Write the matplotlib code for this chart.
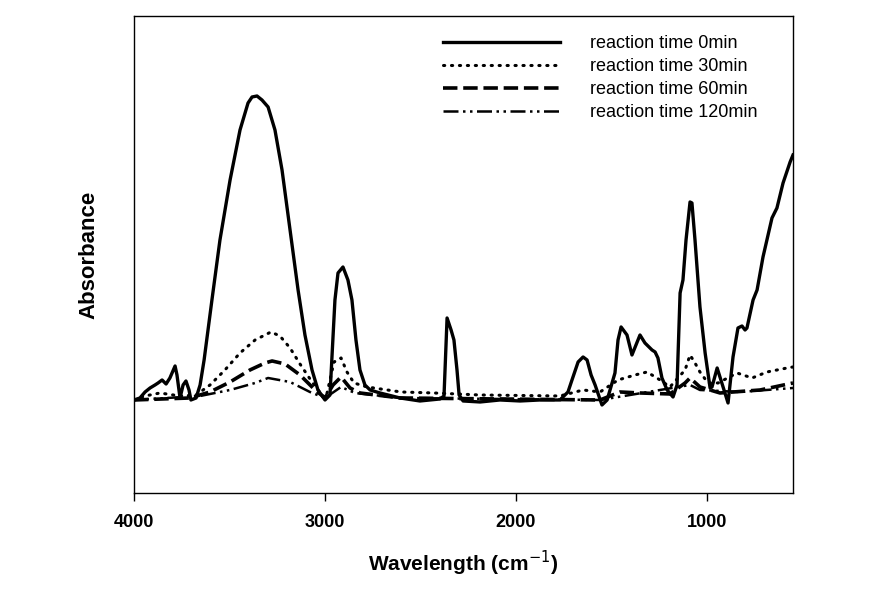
import matplotlib
matplotlib.use('Agg')
import matplotlib.pyplot as plt
import numpy as np

plt.rcParams['font.family'] = ['Liberation Sans', 'DejaVu Sans']

# reaction time 0min
wn_0 = [4000, 3969, 3942, 3916, 3890, 3874, 3853, 3832, 3812, 3785, 3775, 3759, 3743, 3728,
        3712, 3702, 3675, 3654, 3633, 3592, 3550, 3497, 3445, 3403, 3382, 3356, 3330, 3298,
        3262, 3225, 3183, 3141, 3105, 3068, 3037, 3000, 2974, 2948, 2932, 2906, 2880, 2859,
        2838, 2817, 2791, 2764, 2712, 2607, 2503, 2398, 2377, 2361, 2340, 2325, 2309, 2298,
        2277, 2188, 2084, 1979, 1874, 1770, 1728, 1707, 1675, 1649, 1628, 1607, 1586, 1550,
        1523, 1482, 1466, 1450, 1419, 1393, 1372, 1351, 1325, 1288, 1272, 1257, 1236, 1209,
        1178, 1157, 1141, 1126, 1110, 1089, 1079, 1063, 1037, 1010, 984, 974, 947, 916, 890,
        864, 838, 817, 801, 791, 759, 738, 707, 660, 634, 602, 565, 550]
abs_0 = [-0.02, 0.00, 0.06, 0.10, 0.13, 0.15, 0.18, 0.14, 0.20, 0.32, 0.23, 0.00, 0.13, 0.17,
         0.08, -0.02, 0.00, 0.13, 0.38, 0.98, 1.58, 2.18, 2.68, 2.95, 3.01, 3.02, 2.98, 2.91,
         2.68, 2.28, 1.68, 1.08, 0.63, 0.28, 0.08, -0.02, 0.03, 0.98, 1.25, 1.31, 1.18, 0.98,
         0.58, 0.28, 0.13, 0.08, 0.05, 0.00, -0.03, -0.01, 0.02, 0.80, 0.68, 0.58, 0.28, 0.03,
         -0.03, -0.04, -0.02, -0.03, -0.02, -0.02, 0.06, 0.18, 0.36, 0.41, 0.38, 0.23, 0.13, -0.07,
         -0.02, 0.25, 0.58, 0.71, 0.63, 0.43, 0.53, 0.63, 0.55, 0.48, 0.46, 0.40, 0.20, 0.08,
         0.01, 0.13, 1.05, 1.18, 1.58, 1.96, 1.95, 1.58, 0.91, 0.45, 0.10, 0.11, 0.30, 0.11, -0.05,
         0.41, 0.70, 0.72, 0.68, 0.70, 0.98, 1.08, 1.41, 1.80, 1.90, 2.15, 2.36, 2.43]

# reaction time 30min
wn_30 = [4000, 3942, 3864, 3759, 3675, 3602, 3524, 3445, 3366, 3283, 3236, 3183, 3131, 3068,
         3016, 2995, 2953, 2916, 2885, 2848, 2780, 2602, 2429, 2188, 1770, 1649, 1560, 1466,
         1377, 1314, 1246, 1194, 1115, 1089, 1063, 1037, 995, 942, 843, 764, 686, 581, 550]
abs_30 = [-0.02, 0.02, 0.05, 0.02, 0.03, 0.13, 0.28, 0.45, 0.58, 0.66, 0.62, 0.50, 0.34, 0.16,
          0.03, 0.00, 0.36, 0.40, 0.26, 0.15, 0.11, 0.06, 0.05, 0.03, 0.02, 0.08, 0.06, 0.18,
          0.23, 0.26, 0.18, 0.11, 0.28, 0.43, 0.35, 0.26, 0.15, 0.15, 0.25, 0.20, 0.26, 0.30, 0.31]

# reaction time 60min
wn_60 = [4000, 3707, 3602, 3497, 3393, 3314, 3277, 3209, 3131, 3052, 3000, 2958, 2916, 2869,
         2817, 2607, 1560, 1455, 1351, 1194, 1115, 1089, 1037, 932, 722, 550]
abs_60 = [-0.02, 0.00, 0.06, 0.16, 0.28, 0.35, 0.37, 0.34, 0.23, 0.08, 0.00, 0.13, 0.21, 0.10,
          0.05, 0.00, -0.02, 0.06, 0.05, 0.04, 0.15, 0.20, 0.11, 0.05, 0.08, 0.15]

# reaction time 120min
wn_120 = [4000, 3654, 3497, 3366, 3298, 3183, 3079, 3000, 2916, 2843, 2607, 1560, 1403, 1089,
          1037, 827, 550]
abs_120 = [-0.02, 0.02, 0.08, 0.15, 0.20, 0.16, 0.06, 0.00, 0.11, 0.05, 0.00, -0.02, 0.03, 0.13,
           0.08, 0.06, 0.10]

labels = ['reaction time 0min', 'reaction time 30min', 'reaction time 60min', 'reaction time 120min']


def main():
    fig = plt.figure(figsize=(8.81, 5.99), dpi=100)
    ax = fig.add_axes([0.1521, 0.1770, 0.7480, 0.7963])

    ax.plot(wn_0, abs_0, color='black', linewidth=2.4, solid_joinstyle='round', label=labels[0])
    ax.plot(wn_30, abs_30, color='black', linewidth=2.2, linestyle=(0, (0.4, 2.2)),
            dash_capstyle='round', label=labels[1])
    ax.plot(wn_60, abs_60, color='black', linewidth=2.6, linestyle=(0, (4, 1.6)), label=labels[2])
    ax.plot(wn_120, abs_120, color='black', linewidth=1.8, linestyle=(0, (6, 1.8, 1, 1.8, 1, 1.8)),
            label=labels[3])

    ax.set_xlim(4000, 550)
    ax.set_ylim(-0.95, 3.82)
    ax.set_xticks([4000, 3000, 2000, 1000])
    ax.set_yticks([])
    ax.tick_params(axis='x', direction='out', length=6, width=1, pad=9, labelsize=13)
    for t in ax.get_xticklabels():
        t.set_fontweight('bold')
    for s in ax.spines.values():
        s.set_linewidth(1)

    ax.set_xlabel('Wavelength (cm$^{-1}$)', fontsize=15, fontweight='bold', labelpad=13)
    ax.set_ylabel('Absorbance', fontsize=16, fontweight='bold', labelpad=25)

    ax.legend(loc='upper left', bbox_to_anchor=((443 - 134) / 659, (493 - 35) / 477),
              frameon=False, fontsize=13, handlelength=6.5, handletextpad=1.65,
              labelspacing=0.34, borderpad=0, borderaxespad=0)

    fig.savefig('out.png', dpi=100)


if __name__ == "__main__":
    main()
